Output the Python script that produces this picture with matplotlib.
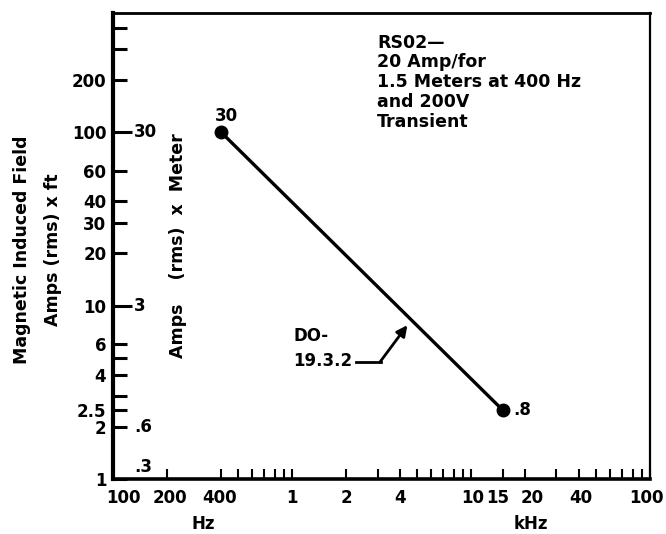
import matplotlib.pyplot as plt
import matplotlib.ticker as mticker
from matplotlib.transforms import ScaledTranslation

plt.rcParams['font.family'] = ['DejaVu Sans']
plt.rcParams['font.weight'] = 'bold'
plt.rcParams['font.size'] = 12

# RS02 limit line
freq_hz = [400, 15000]
field_amp_ft = [100, 2.5]
point_labels = ['30', '.8']

# y axis (Amps x ft)
y_long = [10, 100]
y_long_labels = ['10', '100']
y_short = [1, 2, 2.5, 3, 4, 5, 6, 20, 30, 40, 60, 200, 300, 400]
y_short_labels = ['1', '2', '2.5', '', '4', '', '6', '20', '30', '40', '60', '200', '', '']

# x axis
x_major = [100, 200, 400, 1000, 2000, 4000, 10000, 15000, 20000, 40000, 100000]
x_major_labels = ['100', '200', '400', '1', '2', '4', '10', '15', '20', '40', '100']
x_label_shift = [10, 3, -1, 0, 0, 0, 2, -5, 7, 2, -4]  # pixels, as hand-lettered
x_minor = [500, 600, 700, 800, 900, 3000, 5000, 6000, 7000, 8000, 9000,
           30000, 50000, 60000, 70000, 80000, 90000]

# second scale: Amps x Meter
meter_vals = [100, 10, 2, 1]
meter_labels = ['30', '3', '.6', '.3']

fig = plt.figure(figsize=(6.66, 5.34), dpi=100)
ax = fig.add_axes([0.170, 0.103, 0.806, 0.873])

ax.plot(freq_hz, field_amp_ft, color='black', lw=2.4, marker='o', ms=9)
ax.set_xscale('log')
ax.set_yscale('log')
ax.set_xlim(100, 100000)
ax.set_ylim(1, 487)

ax.yaxis.set_major_locator(mticker.FixedLocator(y_long))
ax.yaxis.set_major_formatter(mticker.FixedFormatter(y_long_labels))
ax.yaxis.set_minor_locator(mticker.FixedLocator(y_short))
ax.yaxis.set_minor_formatter(mticker.FixedFormatter(y_short_labels))
ax.xaxis.set_major_locator(mticker.FixedLocator(x_major))
ax.xaxis.set_major_formatter(mticker.FixedFormatter(x_major_labels))
ax.xaxis.set_minor_locator(mticker.FixedLocator(x_minor))
ax.xaxis.set_minor_formatter(mticker.NullFormatter())

ax.tick_params(axis='y', which='major', direction='in', length=14, width=2.2, pad=5)
ax.tick_params(axis='y', which='minor', direction='in', length=10, width=2.2, pad=5,
               labelsize=12)
ax.tick_params(axis='x', which='both', direction='in', length=7, width=1.5, pad=7)

for lab, dx in zip(ax.get_xticklabels(), x_label_shift):
    lab.set_transform(lab.get_transform() + ScaledTranslation(dx / 100, 0, fig.dpi_scale_trans))

ax.spines['left'].set_linewidth(3)
ax.spines['bottom'].set_linewidth(2.6)
ax.spines['top'].set_linewidth(2)
ax.spines['right'].set_linewidth(1.6)

for v, lab in zip(meter_vals, meter_labels):
    ax.annotate(lab, (100, v), xytext=(15, 0 if v > 1 else 2), textcoords='offset points',
                va='center' if v > 1 else 'bottom', ha='left')

ax.annotate(point_labels[0], (freq_hz[0], field_amp_ft[0]), xytext=(4, 5),
            textcoords='offset points', ha='center', va='bottom')
ax.annotate(point_labels[1], (freq_hz[1], field_amp_ft[1]), xytext=(8, 0),
            textcoords='offset points', ha='left', va='center')

ax.text(0.492, 0.955, 'RS02\u2014\n20 Amp/for\n1.5 Meters at 400 Hz\nand 200V\nTransient',
        transform=ax.transAxes, va='top', ha='left', linespacing=1.12, fontsize=12.5)

ax.text(0.335, 0.307, 'DO-', transform=ax.transAxes, va='center', ha='left')
ax.text(0.335, 0.253, '19.3.2', transform=ax.transAxes, va='center', ha='left')
ax.plot([0.452, 0.499], [0.251, 0.251], color='black', lw=2, transform=ax.transAxes)
ax.annotate('', xy=(0.548, 0.330), xytext=(0.497, 0.251), xycoords='axes fraction',
            arrowprops=dict(arrowstyle='-|>', color='black', lw=2, mutation_scale=16,
                            shrinkA=0, shrinkB=0))

ax.text(0.121, 0.50, 'Amps    (rms)  x  Meter', transform=ax.transAxes,
        rotation=90, ha='center', va='center', fontsize=12.5)

fig.text(0.033, 0.532, 'Magnetic Induced Field', rotation=90,
         ha='center', va='center', fontsize=12.5)
fig.text(0.080, 0.532, 'Amps (rms) x ft', rotation=90,
         ha='center', va='center', fontsize=12.5)
fig.text(0.305, 0.019, 'Hz', ha='center', va='center')
fig.text(0.797, 0.019, 'kHz', ha='center', va='center')

fig.savefig('out.png', dpi=100)
